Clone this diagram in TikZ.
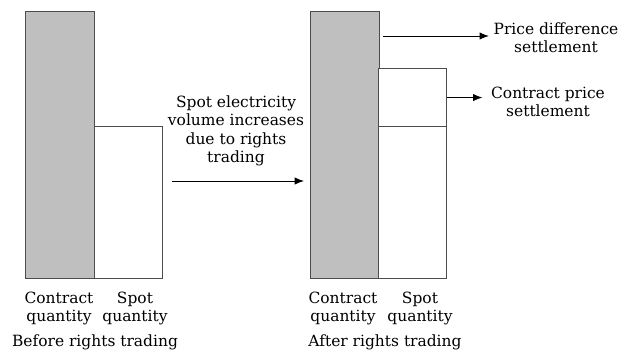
\documentclass[tikz,border=0pt]{standalone}
\usepackage{fontspec}
\setmainfont{DejaVu Serif}
\usetikzlibrary{arrows.meta}
\tikzstyle{bar} = [rectangle, draw=black!70, line width=0.7pt, inner sep=0pt, anchor=south west]
\tikzstyle{contract} = [bar, fill=black!25, minimum width=51.75pt, minimum height=200.25pt]
\tikzstyle{spot} = [bar, fill=white, minimum width=51pt]
\tikzstyle{label} = [align=center, font=\fontsize{11.6}{13.8}\selectfont]
\tikzstyle{arrow} = [line width=0.7pt, -{Latex[length=7pt, width=5.5pt]}]

\begin{document}
\begin{tikzpicture}[x=0.75pt, y=-0.75pt]
\useasboundingbox (0,0) rectangle (620,363);

% Bars before
\node (contract_before) [contract] at (25,279) {};
\node (spot_before) [spot, minimum height=114pt] at (94,279) {};

% Bars after
\node (contract_after) [contract] at (310,279) {};
\node (spot_after) [spot, minimum height=114pt] at (378,279) {};
\node (spot_extra) [spot, minimum height=43.5pt] at (378,127) {};

% Labels
\node (shift) [label] at (236,131) {Spot electricity\\volume increases\\due to rights\\trading};
\node (diff_settle) [label] at (556,37.5) {Price difference\\settlement};
\node (contract_settle) [label] at (548,102) {Contract price\\settlement};

\node (cq_before) [label] at (59,308.5) {Contract\\quantity};
\node (sq_before) [label] at (135,308.5) {Spot\\quantity};
\node (before) [label, anchor=base] at (95,346.5) {Before rights trading};

\node (cq_after) [label] at (343,308.5) {Contract\\quantity};
\node (sq_after) [label] at (420,308.5) {Spot\\quantity};
\node (after) [label, anchor=base] at (385,346.5) {After rights trading};

% Arrows
\coordinate (shift_start) at (172,181);
\coordinate (shift_end) at (304,181);
\coordinate (diff_start) at (383,36);
\draw [arrow] (shift_start) -- (shift_end);
\draw [arrow] (diff_start) -- (diff_start -| diff_settle.west);
\draw [arrow, shorten >=3pt] (spot_extra.east) -- (spot_extra.east -| contract_settle.west);

\end{tikzpicture}
\end{document}
